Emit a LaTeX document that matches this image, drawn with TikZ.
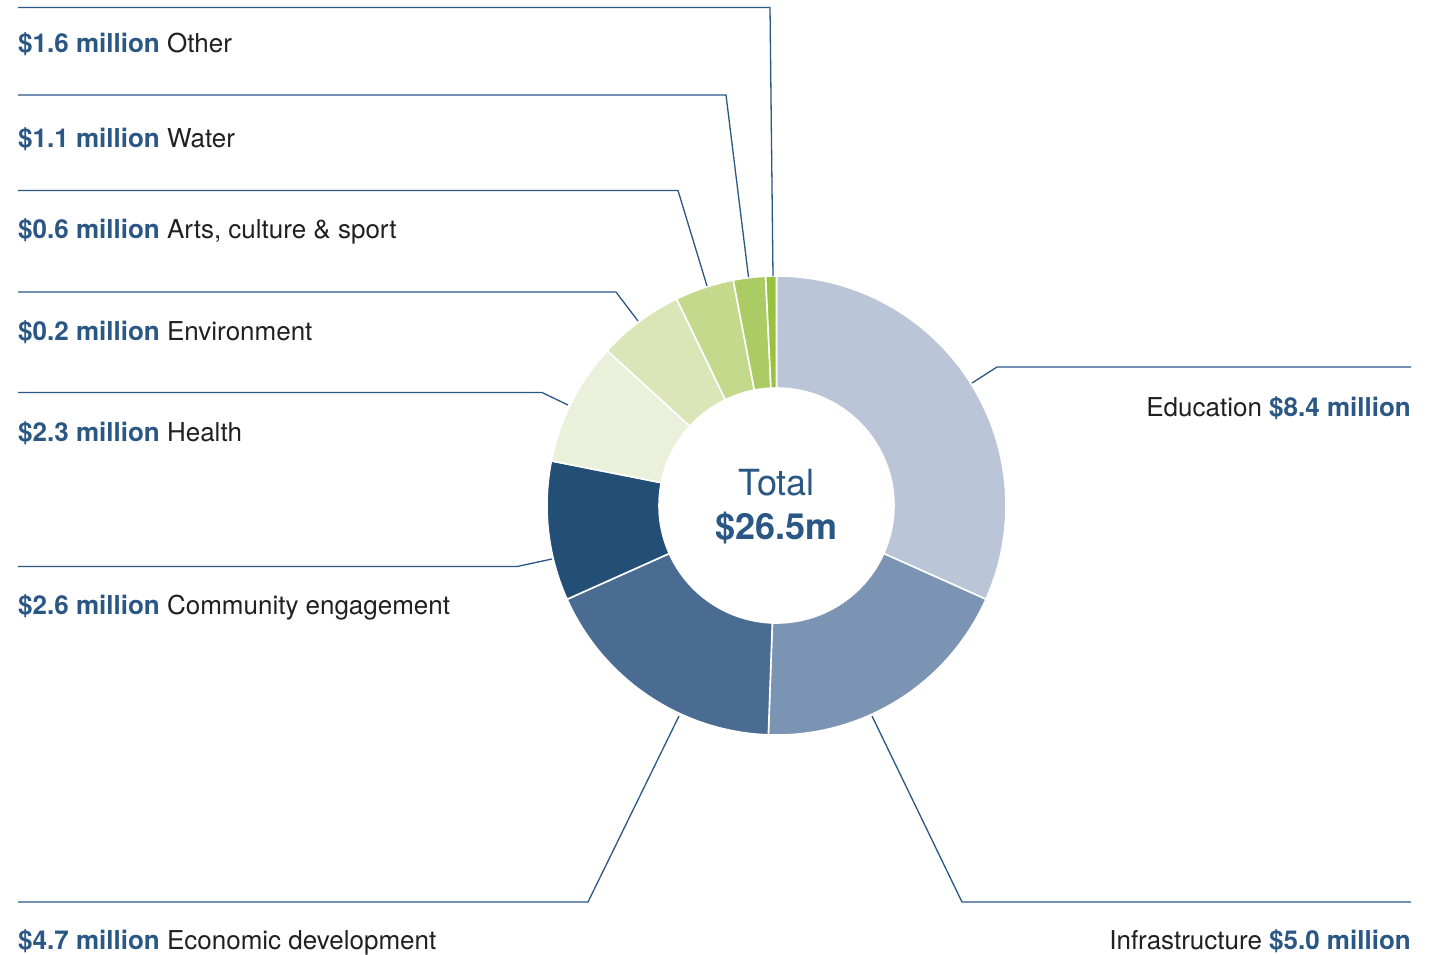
\documentclass[tikz,border=0pt]{standalone}
\usepackage{fontspec}
\setmainfont{TeX Gyre Heros}
\usetikzlibrary{positioning}
\definecolor{ink}{HTML}{231F20}
\definecolor{navy}{HTML}{2A5784}
\definecolor{edu}{HTML}{BAC5D8}
\definecolor{infra}{HTML}{7B94B3}
\definecolor{econ}{HTML}{4A6C92}
\definecolor{comm}{HTML}{234F76}
\definecolor{hlth}{HTML}{EBF0DB}
\definecolor{envr}{HTML}{DAE5B8}
\definecolor{arts}{HTML}{C5D98D}
\definecolor{watr}{HTML}{ABCC65}
\definecolor{othr}{HTML}{98C23D}
\newcommand{\amt}[1]{\textcolor{navy}{\bfseries #1}}

\begin{document}
\begin{tikzpicture}[x=1pt,y=1pt,
  slice/.style={draw=white, line width=1.6pt},
  leader/.style={draw=navy, line width=1.3pt},
  lbl/.style={inner sep=0pt, text=ink, font=\fontsize{26}{30}\selectfont},
  big/.style={inner sep=0pt, text=navy, font=\fontsize{36}{40}\selectfont}]
\useasboundingbox (0,0) rectangle (1438,-954);
% donut
\begin{scope}[shift={(776.5,-505.5)}]
\foreach \a/\b/\col in {0/8.4/edu, 8.4/13.4/infra, 13.4/18.1/econ, 18.1/20.7/comm,
  20.7/23.0/hlth, 23.0/24.6/envr, 24.6/25.7/arts, 25.7/26.3/watr, 26.3/26.5/othr}
  \draw[slice, fill=\col] ({90-\a*360/26.5}:229.5pt)
    arc[start angle={90-\a*360/26.5}, end angle={90-\b*360/26.5}, radius=229.5pt]
    -- ({90-\b*360/26.5}:117.5pt)
    arc[start angle={90-\b*360/26.5}, end angle={90-\a*360/26.5}, radius=117.5pt]
    -- cycle;
\end{scope}
\node[big, anchor=base] (total) at (776.5,-495) {Total};
\node[big, anchor=base, font=\fontsize{36}{40}\selectfont\bfseries] (sum) at (776.5,-539) {\$26.5m};
% labels
\node[lbl, anchor=base west] (l-other) at (18,-52) {\amt{\$1.6 million} Other};
\node[lbl, anchor=base west] (l-water) at (18,-147) {\amt{\$1.1 million} Water};
\node[lbl, anchor=base west] (l-arts) at (18,-238) {\amt{\$0.6 million} Arts, culture \& sport};
\node[lbl, anchor=base west] (l-envr) at (18,-340) {\amt{\$0.2 million} Environment};
\node[lbl, anchor=base west] (l-hlth) at (18,-441) {\amt{\$2.3 million} Health};
\node[lbl, anchor=base west] (l-comm) at (18,-614) {\amt{\$2.6 million} Community engagement};
\node[lbl, anchor=base west] (l-econ) at (18,-949) {\amt{\$4.7 million} Economic development};
\node[lbl, anchor=base east] (l-edu) at (1411,-416) {Education \amt{\$8.4 million}};
\node[lbl, anchor=base east] (l-infra) at (1411,-949) {Infrastructure \amt{\$5.0 million}};
% leader lines
\foreach \n/\sx/\sy/\kx/\ex/\ey in {other/18/7.5/770/773/276, water/18/95/726/748.5/277,
  arts/18/190.5/678/707/286, envr/18/292/616/638/321, hlth/18/392.5/542/568/405,
  comm/18/566.5/517/552/559, econ/18/902/588/679/716, infra/1411/902/962/872/716,
  edu/1411/367/997/972/383} {
  \coordinate (s-\n) at (\sx,-\sy);
  \coordinate (k-\n) at (\kx,-\sy);
  \coordinate (e-\n) at (\ex,-\ey);
  \draw[leader] (s-\n) -- (k-\n) -- (e-\n);
}
\end{tikzpicture}
\end{document}
